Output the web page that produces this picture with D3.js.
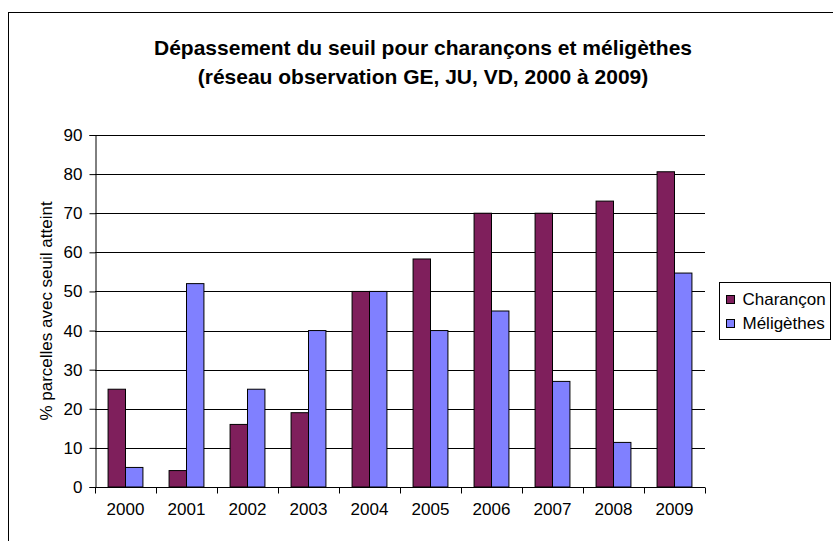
<!DOCTYPE html>
<html>
<head>
<meta charset="utf-8">
<script src="https://cdn.jsdelivr.net/npm/d3@7"></script>
<style>
  body { margin: 0; background: #fff; }
  svg { display: block; font-family: "Liberation Sans", Arial, sans-serif; }
</style>
</head>
<body>
<div id="chart"></div>
<script>
const years = ['2000', '2001', '2002', '2003', '2004', '2005', '2006', '2007', '2008', '2009'];
const seriesNames = ['Charançon', 'Méligèthes'];
const charancon = [25, 4.2, 16, 19, 50, 58.3, 70, 70, 73.1, 80.6];
const meligethes = [5, 52, 25, 40, 50, 40, 45, 27, 11.4, 54.7];
const yTicks = [0, 10, 20, 30, 40, 50, 60, 70, 80, 90];
const colors = ['#7f1f5c', '#8080ff'];

const width = 833, height = 541;
const plot = {left: 95, right: 705, top: 135, bottom: 487};
const fontSize = 17;

const svg = d3.select('#chart').append('svg')
  .attr('width', width)
  .attr('height', height);

// chart area border (runs off the right and bottom edges)
svg.append('rect')
  .attr('x', 8.5).attr('y', 12.5)
  .attr('width', 840).attr('height', 560)
  .attr('fill', 'none').attr('stroke', '#000');

const title = svg.append('text')
  .attr('text-anchor', 'middle')
  .attr('font-weight', 'bold')
  .attr('font-size', 21);
title.append('tspan').attr('x', 423).attr('y', 55)
  .text('Dépassement du seuil pour charançons et méligèthes');
title.append('tspan').attr('x', 423).attr('y', 84)
  .text('(réseau observation GE, JU, VD, 2000 à 2009)');

const y = d3.scaleLinear().domain([0, 90]).range([plot.bottom, plot.top]);
const x0 = d3.scaleBand().domain(years).range([plot.left, plot.right]);
const x1 = d3.scaleBand().domain(seriesNames).range([0, x0.bandwidth()]).paddingOuter(0.75);

// gridlines
svg.append('g')
  .selectAll('line')
  .data(yTicks.slice(1))
  .join('line')
  .attr('x1', plot.left).attr('x2', plot.right)
  .attr('y1', d => Math.round(y(d)) + 0.5)
  .attr('y2', d => Math.round(y(d)) + 0.5)
  .attr('stroke', '#000');

// bars
const rows = years.map((yr, i) => ({year: yr, values: [charancon[i], meligethes[i]]}));
svg.append('g')
  .selectAll('g')
  .data(rows)
  .join('g')
  .attr('transform', d => `translate(${x0(d.year)},0)`)
  .selectAll('rect')
  .data(d => d.values.map((v, j) => ({name: seriesNames[j], value: v, j})))
  .join('rect')
  .attr('x', d => x1(d.name))
  .attr('y', d => y(d.value))
  .attr('width', x1.bandwidth())
  .attr('height', d => y(0) - y(d.value))
  .attr('fill', d => colors[d.j])
  .attr('stroke', '#000')
  .attr('stroke-width', 1);

// y axis
const yAxis = svg.append('g')
  .attr('transform', `translate(${plot.left + 0.5},0)`)
  .call(d3.axisLeft(y).tickValues(yTicks).tickSize(6).tickPadding(7));
yAxis.selectAll('text').attr('font-size', fontSize).attr('fill', '#000').attr('font-family', null);
yAxis.selectAll('line, path').attr('stroke', '#000');

// x axis, ticks between categories
const xAxis = svg.append('g')
  .attr('transform', `translate(0,${Math.round(y(0)) + 0.5})`);
xAxis.append('line')
  .attr('x1', plot.left).attr('x2', plot.right)
  .attr('stroke', '#000');
xAxis.selectAll('line.tick')
  .data(years.concat(['end']))
  .join('line')
  .attr('class', 'tick')
  .attr('x1', (d, i) => Math.round(i < years.length ? x0(d) : plot.right) + 0.5)
  .attr('x2', (d, i) => Math.round(i < years.length ? x0(d) : plot.right) + 0.5)
  .attr('y1', 0).attr('y2', 6)
  .attr('stroke', '#000');
xAxis.selectAll('text')
  .data(years)
  .join('text')
  .attr('x', d => x0(d) + x0.bandwidth() / 2)
  .attr('y', 27)
  .attr('text-anchor', 'middle')
  .attr('font-size', fontSize)
  .text(d => d);

svg.append('text')
  .attr('transform', 'translate(52,311) rotate(-90)')
  .attr('text-anchor', 'middle')
  .attr('font-size', fontSize)
  .text('% parcelles avec seuil atteint');

// legend
const legend = svg.append('g').attr('transform', 'translate(719.5,282.5)');
legend.append('rect')
  .attr('width', 111).attr('height', 57)
  .attr('fill', '#fff').attr('stroke', '#000');
const items = legend.selectAll('g')
  .data(seriesNames)
  .join('g')
  .attr('transform', (d, i) => `translate(7,${22 + i * 24})`);
items.append('rect')
  .attr('x', 0).attr('y', -9)
  .attr('width', 8).attr('height', 8)
  .attr('fill', (d, i) => colors[i])
  .attr('stroke', '#000');
items.append('text')
  .attr('x', 16).attr('y', 0)
  .attr('font-size', fontSize)
  .text(d => d);
</script>
</body>
</html>
